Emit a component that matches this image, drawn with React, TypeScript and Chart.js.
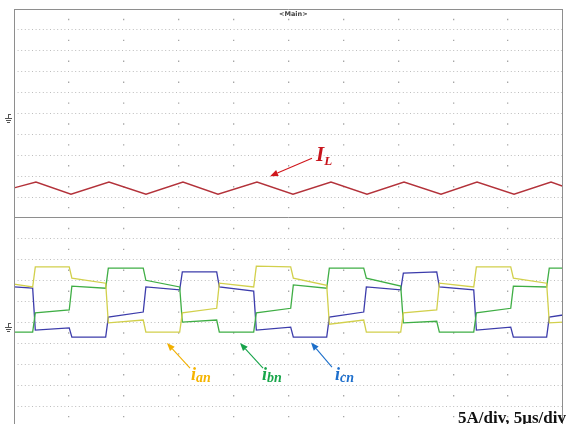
import React, { useEffect, useRef } from "react";
import { Chart, registerables } from "chart.js";

Chart.register(...registerables);

// ---------------- data ----------------
// time in microseconds, current in amperes (5 A/div, 5 us/div)
const ilTimeUs = [0, 2.0, 5.19, 8.65, 12.02, 15.39, 18.58, 22.13, 25.41, 28.87, 32.15, 35.52, 38.89, 42.17, 45.54, 48.91, 50];
const ilAmps = [-16.7, -15.3, -18.2, -15.3, -18.2, -15.3, -18.2, -15.3, -18.2, -15.3, -18.2, -15.3, -18.2, -15.3, -18.2, -15.3, -16.3];

const phaseTimeUs = [
  0, 1.7, 1.94, 5.03, 5.27, 8.35, 8.59, 11.77, 12.01, 15.09, 15.33, 18.46, 18.7, 21.83, 22.07, 25.2,
  25.44, 28.48, 28.72, 31.85, 32.09, 35.22, 35.46, 38.5, 38.74, 41.87, 42.11, 45.24, 45.48, 48.51, 48.75, 50,
];
const ianAmps = [
  10.3, 9.6, 14.4, 14.4, 11.7, 10.5, 1.0, 1.7, -1.2, -1.2, 3.4, 4.5, 10.5, 9.6, 14.6, 14.4,
  11.7, 10.0, 0.7, 1.7, -1.2, -1.2, 3.4, 4.1, 10.5, 9.6, 14.4, 14.4, 11.7, 10.5, 1.0, 1.2,
];
const ibnAmps = [
  -1.2, -1.2, 3.4, 4.1, 9.8, 9.3, 14.1, 14.1, 11.2, 9.6, 1.2, 1.7, -1.2, -1.2, 3.4, 4.5,
  10.1, 9.3, 14.1, 14.1, 11.7, 9.8, 1.0, 1.4, -1.2, -1.2, 3.4, 4.5, 9.8, 9.6, 14.1, 14.1,
];
const icnAmps = [
  9.6, 9.3, -0.7, -0.2, -2.4, -2.4, 2.4, 3.6, 9.6, 8.9, 13.2, 13.2, 9.6, 8.6, -0.7, 0.0,
  -2.4, -2.4, 2.4, 3.6, 9.6, 8.9, 12.9, 13.2, 9.6, 8.9, -0.7, 0.0, -2.4, -2.4, 2.4, 2.9,
];

const timeRangeUs = [0, 50];
const ampRange = [-23.9, 26.1];
const usPerDiv = 5;
const ampPerDiv = 5;

const SERIF = '"Liberation Serif", "Times New Roman", serif';

// ---------------- plugins ----------------
const framePlugin = {
  id: "scopeFrame",
  afterDraw(chart: any, _args: any, opts: any) {
    const { ctx, chartArea } = chart;
    const l = Math.round(chartArea.left) + 0.5;
    const r = Math.round(chartArea.right) - 0.5;
    const t = Math.round(chartArea.top) + 0.5;
    const b = Math.round(chartArea.bottom) - 0.5;
    ctx.save();
    ctx.strokeStyle = "#8e8e8e";
    ctx.lineWidth = 1;
    ctx.beginPath();
    const sides = opts.sides || "tlrb";
    if (sides.includes("t")) { ctx.moveTo(l, t); ctx.lineTo(r, t); }
    if (sides.includes("b")) { ctx.moveTo(l, b); ctx.lineTo(r, b); }
    if (sides.includes("l")) { ctx.moveTo(l, t - 0.5); ctx.lineTo(l, b + 0.5); }
    if (sides.includes("r")) { ctx.moveTo(r, t - 0.5); ctx.lineTo(r, b + 0.5); }
    ctx.stroke();
    // ground reference marker at 0 A
    const y0 = Math.round(chart.scales.y.getPixelForValue(0)) + 0.5;
    const x0 = Math.round(chartArea.left) - 8;
    ctx.strokeStyle = "#555";
    ctx.beginPath();
    ctx.moveTo(x0 + 2, y0 - 4); ctx.lineTo(x0 + 5, y0 - 4);
    ctx.moveTo(x0 + 2.5, y0 - 4); ctx.lineTo(x0 + 2.5, y0);
    ctx.moveTo(x0 - 1, y0); ctx.lineTo(x0 + 6, y0);
    ctx.moveTo(x0, y0 + 2); ctx.lineTo(x0 + 5, y0 + 2);
    ctx.moveTo(x0 + 1, y0 + 4); ctx.lineTo(x0 + 4, y0 + 4);
    ctx.stroke();
    ctx.restore();
  },
};

const arrowPlugin = {
  id: "scopeArrows",
  afterDatasetsDraw(chart: any, _args: any, opts: any) {
    const { ctx, scales } = chart;
    (opts.arrows || []).forEach((a: any) => {
      const x1 = scales.x.getPixelForValue(a.from[0]);
      const y1 = scales.y.getPixelForValue(a.from[1]);
      const x2 = scales.x.getPixelForValue(a.to[0]);
      const y2 = scales.y.getPixelForValue(a.to[1]);
      const ang = Math.atan2(y2 - y1, x2 - x1);
      const len = 8, hw = 3.2;
      const bx = x2 - len * Math.cos(ang);
      const by = y2 - len * Math.sin(ang);
      ctx.save();
      ctx.strokeStyle = a.color;
      ctx.fillStyle = a.color;
      ctx.lineWidth = 1.1;
      ctx.beginPath();
      ctx.moveTo(x1, y1);
      ctx.lineTo(bx, by);
      ctx.stroke();
      ctx.beginPath();
      ctx.moveTo(x2, y2);
      ctx.lineTo(bx + hw * Math.sin(ang), by - hw * Math.cos(ang));
      ctx.lineTo(bx - hw * Math.sin(ang), by + hw * Math.cos(ang));
      ctx.closePath();
      ctx.fill();
      ctx.restore();
    });
  },
};

function makeScales() {
  const divTicks = (step: number) => (s: any) => {
    const out: any[] = [];
    const n = Math.round((s.max - s.min) / step);
    for (let k = 0; k <= n; k++) out.push({ value: s.min + k * step });
    s.ticks = out;
  };
  return {
    x: {
      type: "linear",
      min: timeRangeUs[0],
      max: timeRangeUs[1],
      afterBuildTicks: divTicks(usPerDiv),
      ticks: { display: false },
      grid: {
        drawTicks: false,
        lineWidth: 1.3,
        color: (c: any) => (c.index === 0 || c.index === 10 ? "rgba(0,0,0,0)" : "#a6a6a6"),
      },
      border: { display: false, dash: [1.4, 19.5], dashOffset: -9.8 },
    },
    y: {
      type: "linear",
      min: ampRange[0],
      max: ampRange[1],
      afterBuildTicks: divTicks(ampPerDiv),
      ticks: { display: false },
      grid: {
        drawTicks: false,
        lineWidth: 1,
        color: (c: any) => (c.index === 0 || c.index === 10 ? "rgba(0,0,0,0)" : "#bdbdbd"),
      },
      border: { display: false, dash: [1, 2.6] },
    },
  };
}

function ScopePanel(props: {
  datasets: any[];
  arrows: any[];
  sides: string;
  padding: any;
  style: React.CSSProperties;
}) {
  const ref = useRef<HTMLCanvasElement>(null);
  useEffect(() => {
    const chart = new Chart(ref.current as HTMLCanvasElement, {
      type: "line",
      data: { datasets: props.datasets },
      options: {
        responsive: true,
        maintainAspectRatio: false,
        animation: false,
        layout: { padding: props.padding },
        elements: { point: { radius: 0 }, line: { tension: 0 } },
        plugins: {
          legend: { display: false },
          tooltip: { enabled: false },
          scopeFrame: { sides: props.sides },
          scopeArrows: { arrows: props.arrows },
        } as any,
        scales: makeScales() as any,
      },
      plugins: [framePlugin, arrowPlugin],
    });
    return () => chart.destroy();
  }, []);
  return (
    <div style={props.style}>
      <canvas ref={ref} />
    </div>
  );
}

const zip = (t: number[], v: number[]) => t.map((x, i) => ({ x, y: v[i] }));

export default function App() {
  const topSets = [
    { label: "IL", data: zip(ilTimeUs, ilAmps), borderColor: "#b3323a", borderWidth: 1.4, pointRadius: 0 },
  ];
  const bottomSets = [
    { label: "ian", data: zip(phaseTimeUs, ianAmps), borderColor: "#d2d04c", borderWidth: 1.3, pointRadius: 0 },
    { label: "ibn", data: zip(phaseTimeUs, ibnAmps), borderColor: "#3fae45", borderWidth: 1.3, pointRadius: 0 },
    { label: "icn", data: zip(phaseTimeUs, icnAmps), borderColor: "#3c3cab", borderWidth: 1.3, pointRadius: 0 },
  ];
  const topArrows = [{ from: [27.14, -9.6], to: [23.32, -13.9], color: "#d0161c" }];
  const bottomArrows = [
    { from: [16.03, -9.8], to: [13.93, -3.8], color: "#f2b000" },
    { from: [22.68, -9.8], to: [20.58, -3.8], color: "#17a34a" },
    { from: [28.96, -9.6], to: [27.05, -3.7], color: "#1d6fca" },
  ];

  const labelBase: React.CSSProperties = {
    position: "absolute",
    fontFamily: SERIF,
    fontWeight: "bold",
    fontStyle: "italic",
    lineHeight: 1,
    whiteSpace: "nowrap",
  };
  const sub = (size: number, shift: number): React.CSSProperties => ({
    fontSize: size,
    verticalAlign: -shift,
    lineHeight: 1,
  });

  return (
    <div
      style={{
        position: "fixed",
        left: 0,
        top: 0,
        width: 568,
        height: 424,
        overflow: "hidden",
        background: "#fff",
      }}
    >
      <ScopePanel
        datasets={topSets}
        arrows={topArrows}
        sides="tlrb"
        padding={{ left: 14, right: 5, top: 9, bottom: 2 }}
        style={{ position: "absolute", left: 0, top: 0, width: 568, height: 220 }}
      />
      <ScopePanel
        datasets={bottomSets}
        arrows={bottomArrows}
        sides="lrb"
        padding={{ left: 14, right: 5, top: 2, bottom: 5 }}
        style={{ position: "absolute", left: 0, top: 216, width: 568, height: 216 }}
      />
      <div
        style={{
          position: "absolute",
          left: 279,
          top: 11,
          fontFamily: '"DejaVu Sans", sans-serif',
          fontSize: 6.5,
          fontWeight: "bold",
          color: "#444",
          lineHeight: 1,
        }}
      >
        {"<Main>"}
      </div>
      <div style={{ ...labelBase, left: 316, top: 144, fontSize: 21, color: "#c8141c" }}>
        I<span style={sub(13, 4)}>L</span>
      </div>
      <div style={{ ...labelBase, left: 191, top: 365, fontSize: 18, color: "#f5b400" }}>
        i<span style={sub(14, 2)}>an</span>
      </div>
      <div style={{ ...labelBase, left: 262, top: 365, fontSize: 18, color: "#18a64a" }}>
        i<span style={sub(14, 2)}>bn</span>
      </div>
      <div style={{ ...labelBase, left: 335, top: 365, fontSize: 18, color: "#1e6fcc" }}>
        i<span style={sub(14, 2)}>cn</span>
      </div>
      <div
        style={{
          position: "absolute",
          right: 2,
          top: 409,
          fontFamily: SERIF,
          fontWeight: "bold",
          fontSize: 17,
          color: "#111",
          lineHeight: 1,
          whiteSpace: "nowrap",
        }}
      >
        5A/div, 5μs/div
      </div>
    </div>
  );
}
